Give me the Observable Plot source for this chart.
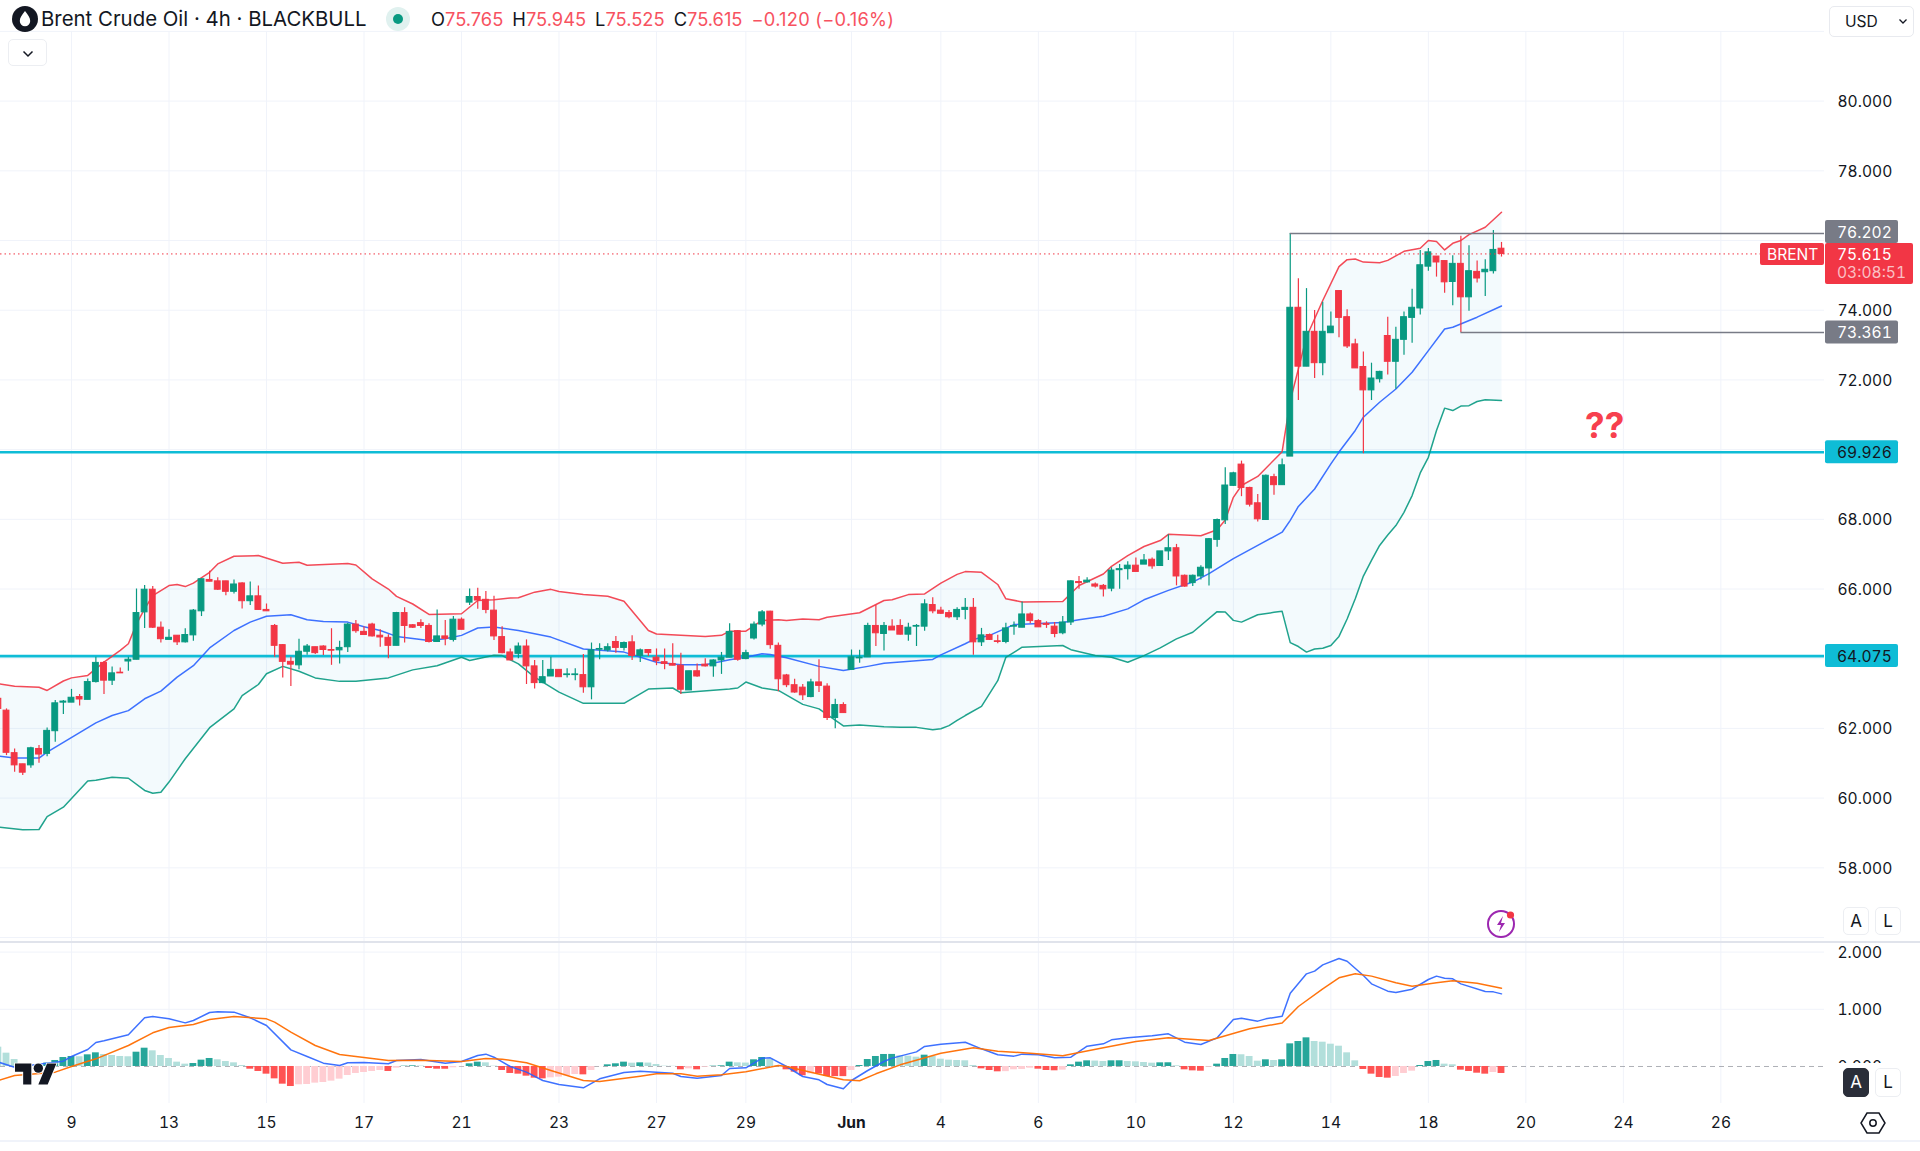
<!DOCTYPE html>
<html><head><meta charset="utf-8">
<script src="https://cdn.jsdelivr.net/npm/d3@7"></script>
<script src="https://cdn.jsdelivr.net/npm/@observablehq/plot@0.6"></script>
<style>
html,body{margin:0;padding:0;background:#fff;width:1920px;height:1151px;overflow:hidden;font-family:Inter,sans-serif;color:#131722}
#c1,#c2{position:absolute;left:0}
#c1{top:0}#c2{top:942px}
.a{position:absolute}
.btn{position:absolute;box-sizing:border-box;border:1px solid #eceef2;border-radius:5px;background:#fff;text-align:center;font-size:17px;line-height:27px;color:#131722}
svg{display:block}
</style></head><body>
<div id="c1"></div><div id="c2"></div>
<div id="ui"></div>
<script>
const open=[62.85,62.51,61.29,60.97,60.94,61.41,61.27,61.92,62.74,62.74,62.90,62.82,63.33,63.88,63.37,63.60,63.92,63.97,65.33,65.98,64.89,64.54,64.66,64.47,64.67,65.36,66.26,66.22,66.22,65.92,66.16,65.65,65.79,65.40,64.94,64.39,63.91,63.81,64.20,64.33,64.35,64.25,64.24,64.33,64.98,64.77,64.98,64.66,64.60,64.37,65.31,64.96,65.02,64.94,64.48,64.64,64.54,65.12,65.61,65.77,
65.69,65.38,64.62,64.18,64.14,64.35,63.78,63.30,63.49,63.68,63.53,63.53,63.53,63.18,64.26,64.24,64.48,64.31,64.47,64.08,64.25,64.03,63.90,63.85,63.80,63.09,63.64,63.83,63.78,63.95,64.03,64.79,63.99,64.58,64.98,65.35,64.37,63.52,63.24,63.17,62.90,63.32,63.20,62.30,62.67,63.68,64.01,64.04,64.94,64.71,64.92,64.94,64.69,64.92,
64.92,65.54,65.38,65.31,65.19,65.40,65.46,64.47,64.68,64.50,64.48,64.92,64.89,65.27,65.08,65.00,64.92,64.73,65.04,66.20,66.19,66.13,66.09,66.01,66.54,66.57,66.67,66.70,66.84,66.66,67.08,67.17,66.38,66.17,66.36,66.59,67.41,67.97,68.96,69.57,68.90,68.46,67.98,69.21,68.98,
69.80,74.07,72.38,73.38,72.48,73.34,74.55,73.80,73.02,72.37,71.70,72.02,73.26,72.52,73.15,73.78,74.05,75.25,75.54,75.41,74.81,75.33,74.37,75.10,75.09,75.12,75.765];
const high=[63.00,62.56,61.41,60.97,61.46,61.51,62.01,62.80,62.80,63.12,62.97,63.42,64.04,63.92,63.76,63.73,64.04,66.00,66.10,66.07,65.05,64.83,64.66,64.86,65.41,66.29,66.51,66.32,66.22,66.26,66.18,66.20,66.09,65.57,64.98,64.41,64.04,64.56,64.41,64.33,64.37,64.86,64.50,65.02,65.10,64.92,65.02,64.83,64.69,65.33,65.46,64.98,65.12,65.00,65.40,65.10,65.21,65.17,66.00,66.02,
65.93,65.79,64.92,64.28,64.45,64.54,63.95,63.95,64.04,63.68,63.71,63.71,64.12,64.45,64.43,64.43,64.64,64.48,64.66,64.28,64.25,64.28,64.28,64.43,64.16,63.64,63.85,64.00,63.97,64.18,65.00,64.81,64.24,65.05,65.38,65.36,64.45,63.55,63.41,63.26,63.41,63.97,63.28,62.84,62.74,64.25,64.24,65.02,65.53,65.04,65.12,65.12,65.02,64.98,
65.69,65.75,65.48,65.38,65.46,65.73,65.73,64.87,64.71,64.67,65.02,65.05,65.63,65.31,65.12,65.06,65.04,65.21,66.24,66.36,66.32,66.17,66.13,66.61,66.70,66.78,66.89,66.99,66.89,67.08,67.56,67.28,66.40,66.40,66.67,67.45,68.01,69.48,69.35,69.67,68.92,68.71,69.27,69.29,69.73,
76.202,74.90,74.62,73.99,74.23,73.95,74.55,74.01,73.17,72.80,72.48,72.25,73.80,73.51,73.95,74.60,75.71,75.77,75.54,75.41,75.56,76.12,75.85,75.41,75.45,76.29,75.945];
const low=[62.50,61.22,60.74,60.65,60.86,61.00,61.19,61.60,62.40,62.74,62.64,62.82,63.30,62.97,63.23,63.58,63.64,63.97,64.87,64.87,64.45,64.54,64.38,64.45,64.50,65.21,66.21,65.96,65.81,65.86,65.43,65.53,65.40,65.36,64.04,63.45,63.20,63.68,64.10,64.12,64.09,63.81,63.85,64.18,64.73,64.68,64.62,64.33,64.00,64.37,64.45,64.87,64.87,64.45,64.48,64.37,64.48,64.83,65.53,65.42,
65.29,64.52,64.14,63.95,64.00,63.26,63.13,63.28,63.49,63.47,63.45,63.37,63.01,62.82,63.97,64.19,64.16,64.22,63.95,63.89,64.06,63.80,63.68,63.80,62.97,63.09,63.47,63.76,63.47,63.55,64.03,63.93,63.97,64.54,64.92,64.27,63.05,63.17,63.01,62.80,62.88,63.03,62.23,61.99,62.44,63.68,63.87,64.04,64.35,64.22,64.81,64.68,64.50,64.35,
64.79,65.29,65.27,65.15,65.10,65.12,64.10,64.35,64.52,64.43,64.43,64.67,64.89,65.00,64.90,64.87,64.60,64.69,64.95,65.99,66.17,66.03,65.77,65.92,65.99,66.26,66.49,66.70,66.57,66.65,66.82,66.09,66.05,66.07,66.26,66.09,67.20,67.85,68.94,68.65,68.35,67.92,67.97,68.69,68.98,
69.80,71.41,72.38,72.04,72.12,73.34,73.21,72.90,72.33,69.88,71.41,71.91,72.14,71.73,72.71,73.05,73.86,75.12,74.95,74.49,74.13,73.361,73.97,74.78,74.39,75.04,75.525];
const close=[62.56,61.30,60.94,60.73,61.43,61.25,61.93,62.72,62.77,62.88,62.83,63.33,63.88,63.37,63.58,63.58,63.97,65.31,65.98,64.89,64.56,64.60,64.47,64.68,65.38,66.28,66.21,65.98,65.92,66.13,65.65,65.79,65.40,65.36,64.37,63.91,63.83,64.20,64.35,64.16,64.25,64.23,64.31,64.98,64.79,64.68,64.64,64.61,64.37,65.31,64.94,64.89,64.94,64.48,64.64,64.57,65.12,64.83,65.77,65.67,
65.40,64.64,64.16,63.95,64.35,63.78,63.30,63.47,63.68,63.47,63.55,63.55,63.18,64.24,64.28,64.33,64.31,64.45,64.08,64.24,64.16,63.93,63.85,63.80,63.11,63.64,63.49,63.78,63.95,64.03,64.77,63.97,64.16,64.98,65.33,64.39,63.41,63.24,63.03,62.95,63.32,63.22,62.30,62.67,62.44,64.04,64.03,64.94,64.73,64.94,64.81,64.69,64.89,64.94,
65.56,65.36,65.29,65.19,65.40,65.46,64.47,64.67,64.54,64.48,64.87,64.94,65.27,65.08,64.90,64.97,64.71,65.04,66.22,66.17,66.24,66.07,65.99,66.53,66.57,66.67,66.49,66.82,66.65,67.08,67.17,66.36,66.07,66.38,66.61,67.43,67.98,68.97,69.32,68.90,68.42,68.00,69.25,68.98,69.55,
74.07,72.38,73.38,72.48,73.38,73.53,73.78,72.96,72.33,71.70,72.04,72.23,72.52,73.15,73.80,74.07,75.29,75.66,75.37,74.80,75.33,74.37,75.12,74.91,75.16,75.73,75.615];

const upperBar=[-1,1,4,5,7,8,10,12,14,15,16,17,18,20,21,22,23,25,26,28,31,34,36,37,42,43,45,47,48,50,52,56,58,60,62,63,65,67,68,71,74,76,79,80,83,86,88,89,91,93,95,96,98,100,101,105,108,109,111,113,115,117,118,120,122,123,125,130,132,135,136,138,140,142,143,147,149,150,151,152,154,157,158,160,162,164,165,166,167,169,170,172,174,175,176,177,178,179,180,182,184];
const upperVal=[63.28,63.21,63.18,63.09,63.36,63.45,63.52,63.90,64.24,64.43,65.0,65.43,65.81,66.10,66.13,66.07,66.17,66.48,66.72,66.94,66.96,66.74,66.77,66.68,66.73,66.69,66.29,66.00,65.79,65.57,65.27,65.29,65.67,65.69,65.74,65.75,65.91,65.99,65.93,65.84,65.79,65.65,64.81,64.71,64.67,64.64,64.67,64.79,64.79,65.10,65.12,65.10,65.14,65.12,65.19,65.32,65.67,65.69,65.84,65.86,66.17,66.42,66.50,66.48,66.13,65.72,65.63,65.64,66.10,66.43,66.65,66.96,67.22,67.39,67.57,67.53,67.70,67.98,68.63,68.97,69.23,69.94,71.4,73.23,74.28,75.25,75.45,75.47,75.38,75.36,75.43,75.69,75.78,76.00,75.97,75.73,75.92,76.00,76.17,76.38,76.81];
const basisBar=[-1,1,4,5,11,13,15,17,19,21,23,25,28,30,32,35,37,39,42,44,46,48,52,54,56,58,60,63,67,71,76,80,83,86,89,91,93,94,96,100,103,106,108,112,114,115,118,119,121,124,130,132,135,138,140,143,146,148,151,154,157,158,159,161,163,164,166,167,169,171,173,175,177,178,181,184];
const basisVal=[61.21,61.15,61.15,61.32,62.16,62.37,62.51,62.85,63.07,63.47,63.80,64.31,64.81,65.05,65.22,65.26,65.12,65.07,65.05,64.92,64.81,64.64,64.52,64.57,64.67,64.88,64.91,64.81,64.62,64.28,64.19,63.90,63.83,63.83,63.97,64.04,64.14,64.12,64.03,63.78,63.66,63.78,63.87,63.94,63.98,64.11,64.43,64.55,64.67,64.98,65.04,65.12,65.22,65.43,65.69,65.96,66.20,66.44,66.87,67.25,67.63,67.97,68.37,68.87,69.59,69.93,70.55,70.93,71.36,71.74,72.22,72.84,73.46,73.51,73.80,74.12];
const lowerBar=[-1,2,4,5,7,10,11,13,15,17,18,19,20,22,25,28,29,31,32,34,36,38,41,43,47,50,53,56,57,58,60,61,63,65,68,71,76,79,82,83,89,90,91,93,95,98,100,103,105,108,110,112,114,115,116,117,118,120,122,123,125,130,131,134,136,138,140,142,144,146,149,150,151,152,154,156,157,158,159,160,161,162,163,164,165,166,167,168,169,170,171,172,173,174,175,176,177,178,179,180,181,182,184];
const lowerVal=[59.17,59.09,59.10,59.47,59.74,60.49,60.51,60.60,60.57,60.22,60.14,60.17,60.46,61.13,62.02,62.56,62.94,63.26,63.57,63.78,63.64,63.45,63.35,63.35,63.45,63.68,63.80,64.04,63.95,64.00,64.10,64.09,63.85,63.47,63.04,62.72,62.72,63.13,63.16,63.02,63.13,63.16,63.33,63.16,63.09,62.69,62.56,62.07,62.10,62.05,62.03,62.03,61.96,61.99,62.08,62.23,62.37,62.63,63.37,64.04,64.33,64.38,64.26,64.09,64.04,63.90,64.09,64.31,64.57,64.76,65.35,65.34,65.10,65.05,65.26,65.33,65.36,64.46,64.35,64.19,64.28,64.30,64.38,64.64,65.14,65.72,66.37,66.82,67.25,67.55,67.82,68.20,68.68,69.33,69.78,70.55,71.19,71.12,71.25,71.26,71.38,71.43,71.41];

const macdHist=[.338,.233,.122,.05,.02,.03,.06,.105,.157,.175,.17,.204,.239,.21,.192,.175,.17,.25,.32,.274,.192,.14,.076,.041,.052,.111,.14,.117,.087,.064,.017,
-.047,-.087,-.134,-.216,-.309,-.35,-.32,-.315,-.291,-.28,-.256,-.221,-.157,-.122,-.105,-.087,-.07,-.087,-.029,.006,.012,.008,-.035,-.047,-.048,-.023,-.005,.047,.076,.064,.006,
-.07,-.122,-.134,-.169,-.204,-.216,-.198,-.186,-.163,-.14,-.146,-.07,-.002,.029,.047,.076,.058,.064,.06,.035,.006,.004,-.058,-.041,-.058,-.012,.006,.012,.076,.064,.06,.117,.157,.128,.012,
-.058,-.099,-.163,-.128,-.13,-.175,-.176,-.177,-.07,.017,.122,.175,.21,.211,.186,.18,.163,.198,.175,.128,.111,.105,.1,.017,-.041,-.07,-.093,-.09,-.058,-.052,-.03,-.047,-.07,-.075,-.064,.029,.076,.099,.095,.087,.099,.1,.087,.082,.07,.058,.064,.065,.012,
-.058,-.076,-.082,-.012,.041,.14,.21,.205,.175,.093,.117,.105,.117,.396,.437,.501,.437,.425,.39,.355,.239,.099,-.052,-.134,-.192,-.204,-.175,-.122,-.082,.017,.087,.105,.041,.03,-.064,-.087,-.117,-.134,-.105,-.122];
const macdBar=[-1,1,7,8,10,11,12,15,17,18,20,22,23,25,26,28,30,32,35,37,39,41,42,44,47,48,51,54,56,58,59,60,62,64,66,68,71,73,76,78,80,82,83,85,88,89,91,93,94,96,98,100,101,103,104,106,108,109,112,113,115,118,120,122,124,125,127,129,131,133,135,136,138,141,143,145,147,149,151,152,154,155,157,158,160,161,162,164,165,167,168,170,171,173,175,176,177,178,179,182,183,184];
const macdVal=[.076,-.012,.093,.175,.297,.42,.45,.554,.851,.874,.833,.763,.804,.944,.956,.95,.851,.717,.291,.175,.058,.017,.064,.07,.047,.105,.122,.058,.087,.192,.216,.163,0,-.099,-.245,-.315,-.373,-.216,-.105,-.082,-.099,-.117,-.175,-.204,-.157,-.035,-.023,.146,.152,0,-.175,-.233,-.315,-.39,-.245,-.07,.087,.146,.256,.35,.39,.425,.309,.204,.181,.216,.204,.152,.163,.355,.396,.466,.501,.536,.571,.425,.385,.501,.822,.845,.793,.833,.88,1.282,1.62,1.667,1.777,1.888,1.841,1.591,1.445,1.317,1.294,1.352,1.521,1.58,1.544,1.533,1.445,1.311,1.305,1.27];
const signalBar=[-1,1,6,8,11,15,18,20,23,25,28,32,33,35,38,41,44,47,51,56,59,61,64,67,71,73,78,80,83,85,88,91,95,96,99,103,105,107,110,115,119,122,126,130,135,139,143,148,153,157,159,162,164,166,168,171,173,176,178,181,184];
const signalVal=[-.245,-.157,-.099,0,.134,.367,.589,.682,.734,.822,.874,.833,.775,.6,.367,.21,.157,.105,.111,.087,.14,.128,.064,-.07,-.245,-.262,-.169,-.128,-.128,-.169,-.146,-.093,.017,0,-.099,-.233,-.25,-.128,.029,.233,.326,.268,.233,.186,.326,.437,.501,.454,.659,.76,1.049,1.358,1.55,1.62,1.58,1.463,1.404,1.463,1.498,1.457,1.369];

const priceTicks=[58,60,62,66,68,72,74,78,80];
const gridPrices=[56,58,60,62,64,66,68,70,72,74,76,78,80,82];
const macdTicks=[2,1,0];
const timeBars=[8,20,32,44,56,68,80,91,115,127,139,151,163,175,187,199,211];
const timeLabels=["9","13","15","17","21","23","27","29","4","6","10","12","14","18","20","24","26"];
const monthBar=[104];const monthLabel=["Jun"];
const levels=[69.926,64.075];
const lastClose=75.615, rangeHigh=76.202, rangeLow=73.361, rangeHighBar=158, rangeLowBar=179;

const GREEN="#089981",RED="#f23645",GRID="#f0f3fa",CYAN="#0fbcd6";
const allV=[...timeBars,...monthBar];
const bars=open.map((o,k)=>({i:k-1,o,h:high[k],l:low[k],c:close[k],col:close[k]>=o?GREEN:RED}));
const zip=(a,b)=>a.map((i,k)=>({i,v:b[k]}));
const upper=zip(upperBar,upperVal),basis=zip(basisBar,basisVal),lower=zip(lowerBar,lowerVal);
const band=[...upper,...lower.slice().reverse()];
const hist=macdHist.map((v,k)=>{const p=k?macdHist[k-1]:v;return {i:k-1,v,col:v>=0?(v>p?"#26a69a":"#b2dfdb"):(v<p?"#ff5252":"#ffcdd2")}});
const X={domain:[-0.7385,223.754],range:[0,1824]};
const font={fontFamily:"Inter,sans-serif",fontSize:"15.6px",color:"#131722",background:"transparent"};

function tags(index,{y},_,dim){
  const g=d3.create("svg:g").attr("font-family","Inter,sans-serif").attr("font-size","15.6px").attr("text-anchor","start").style("font-variant-numeric","tabular-nums");
  const box=(v,label,bg,fg,shift=0)=>{const c=y(v)+shift;
    g.append("rect").attr("x",1825).attr("y",c-11.5).attr("width",73).attr("height",23).attr("rx",2).attr("fill",bg);
    g.append("text").attr("x",1837).attr("y",c+0.5).attr("dy","0.36em").attr("fill",fg).text(label);};
  box(rangeHigh,"76.202","#787b86","#fff",-1.5);
  box(rangeLow,"73.361","#787b86","#fff");
  box(levels[0],"69.926",CYAN,"#131722");
  box(levels[1],"64.075",CYAN,"#131722");
  const c=y(lastClose);
  g.append("rect").attr("x",1760).attr("y",c-10.5).attr("width",64).attr("height",22).attr("rx",2).attr("fill",RED);
  g.append("text").attr("x",1767).attr("y",c+0.5).attr("dy","0.36em").attr("fill","#fff").text("BRENT");
  g.append("rect").attr("x",1825).attr("y",c-10.5).attr("width",88).attr("height",41).attr("rx",2).attr("fill",RED);
  g.append("text").attr("x",1837).attr("y",c+0.5).attr("dy","0.36em").attr("fill","#fff").text("75.615");
  g.append("text").attr("x",1837).attr("y",c+18.5).attr("dy","0.36em").attr("fill","#ffffffb0").text("03:08:51");
  return g.node();
}

const main=Plot.plot({width:1920,height:942,marginLeft:0,marginRight:96,marginTop:0,marginBottom:0,style:font,
  x:{...X,axis:null},y:{domain:[55.857,82.887],range:[942,0],axis:null},color:{type:"identity"},
  marks:[
    Plot.ruleY(gridPrices,{stroke:GRID,strokeWidth:1}),
    Plot.ruleX(allV,{y1:82,y2:55.857,stroke:GRID,strokeWidth:1}),
    Plot.line(band,{x:"i",y:"v",fill:"#1f9fdc",fillOpacity:0.055,stroke:"none",clip:true}),
    Plot.ruleY(levels,{stroke:CYAN,strokeWidth:2.6}),
    Plot.line(upper,{x:"i",y:"v",stroke:RED,strokeWidth:1.5,strokeOpacity:.9,clip:true}),
    Plot.line(basis,{x:"i",y:"v",stroke:"#2962ff",strokeWidth:1.5,strokeOpacity:.9,clip:true}),
    Plot.line(lower,{x:"i",y:"v",stroke:GREEN,strokeWidth:1.5,strokeOpacity:.9,clip:true}),
    Plot.ruleX(bars,{x:"i",y1:"l",y2:"h",stroke:"col",strokeWidth:1.2,clip:true}),
    Plot.rect(bars,{x1:d=>d.i-0.36,x2:d=>d.i+0.36,y1:"o",y2:"c",fill:"col",stroke:"col",strokeWidth:1,clip:true}),
    Plot.ruleY([rangeHigh],{x1:rangeHighBar,x2:X.domain[1],stroke:"#787b86",strokeWidth:1.4}),
    Plot.ruleY([rangeLow],{x1:rangeLowBar,x2:X.domain[1],stroke:"#787b86",strokeWidth:1.4}),
    Plot.ruleY([lastClose],{x1:X.domain[0],x2:216,stroke:RED,strokeWidth:1,strokeDasharray:"1.5 3"}),
    Plot.text([{i:196.7,v:70.66,t:"??"}],{x:"i",y:"v",text:"t",fontSize:35,fontWeight:700,fill:"#f7404e"}),
    Plot.axisY(priceTicks,{anchor:"right",tickSize:0,tickPadding:13,label:null,dy:1,tickFormat:d3.format(".3f"),fill:"#131722"}),
    tags
  ]});
document.getElementById("c1").append(main);

const macdPlot=Plot.plot({width:1920,height:209,marginLeft:0,marginRight:96,marginTop:0,marginBottom:48,style:font,
  x:{...X,axis:null},y:{domain:[-0.647,2.168],range:[161,0],axis:null},color:{type:"identity"},
  marks:[
    Plot.ruleY([2,1],{stroke:GRID,strokeWidth:1}),
    Plot.ruleX(allV,{stroke:GRID,strokeWidth:1}),
    Plot.ruleY([0],{stroke:"#787b86",strokeOpacity:.6,strokeWidth:1,strokeDasharray:"5 4"}),
    Plot.rect(hist,{x1:d=>d.i-0.42,x2:d=>d.i+0.42,y1:d=>0,y2:"v",fill:"col",clip:true}),
    Plot.line(zip(macdBar,macdVal),{x:"i",y:"v",stroke:"#2962ff",strokeWidth:1.5,strokeOpacity:.9,clip:true}),
    Plot.line(zip(signalBar,signalVal),{x:"i",y:"v",stroke:"#ff6d00",strokeWidth:1.5,strokeOpacity:.95,clip:true}),
    Plot.axisY(macdTicks,{anchor:"right",tickSize:0,tickPadding:13,label:null,dy:1,tickFormat:d3.format(".3f"),fill:"#131722"}),
    Plot.axisX(timeBars,{anchor:"bottom",tickSize:0,tickPadding:13,label:null,tickFormat:(d)=>timeLabels[timeBars.indexOf(d)],fill:"#131722"}),
    Plot.axisX(monthBar,{anchor:"bottom",tickSize:0,tickPadding:13,label:null,tickFormat:()=>monthLabel[0],fontWeight:700,fill:"#131722"})
  ]});
document.getElementById("c2").append(macdPlot);

document.getElementById("ui").innerHTML=`
<div class="a" style="left:0;top:941px;width:1920px;height:1.5px;background:#e0e3eb"></div>
<div class="a" style="left:0;top:1139.5px;width:1920px;height:2px;background:#f0f3fa"></div>
<svg class="a" style="left:12px;top:6px" width="26" height="26" viewBox="0 0 26 26"><circle cx="13" cy="13" r="13" fill="#131722"/><path d="M13 5c3 3.8 5.2 6.6 5.2 10a5.2 5.2 0 0 1-10.4 0C7.8 11.6 10 8.8 13 5z" fill="#fff"/></svg>
<div class="a" style="left:41px;top:7px;font-size:20.4px;line-height:24px;white-space:nowrap">Brent Crude Oil · 4h · BLACKBULL</div>
<svg class="a" style="left:385px;top:7px" width="26" height="26"><circle cx="13" cy="12" r="12" fill="#e0f1ef"/><circle cx="13" cy="12" r="5" fill="#089981"/></svg>
<div class="a" style="left:431px;top:8px;font-size:18.3px;line-height:22px;white-space:nowrap;color:#f7525f"><span style="color:#131722">O</span>75.765<span style="color:#131722;margin-left:9px">H</span>75.945<span style="color:#131722;margin-left:9px">L</span>75.525<span style="color:#131722;margin-left:9px">C</span>75.615<span style="margin-left:9px;letter-spacing:.25px">−0.120 (−0.16%)</span></div>
<div class="btn" style="left:8px;top:39px;width:39px;height:27px"><svg width="14" height="10" viewBox="0 0 14 10" style="margin-top:8px;display:inline-block"><path d="M2.5 2.5 7 7l4.5-4.5" fill="none" stroke="#131722" stroke-width="1.5"/></svg></div>
<div class="btn" style="left:1829px;top:6px;width:85px;height:31px;line-height:29px;text-align:left;padding-left:15px;font-size:15.6px;border-color:#e8eaef">USD<svg width="10" height="8" viewBox="0 0 10 8" style="position:absolute;left:68px;top:11px"><path d="M1.5 1.5 5 5l3.5-3.5" fill="none" stroke="#131722" stroke-width="1.3"/></svg></div>
<div class="a" style="left:1826px;top:1063px;width:94px;height:40px;background:#fff"></div>
<div class="btn" style="left:1843px;top:907px;width:26px;height:28px">A</div>
<div class="btn" style="left:1875px;top:907px;width:26px;height:28px">L</div>
<div class="btn" style="left:1843px;top:1068px;width:26px;height:29px;background:#2a2e39;color:#fff;border-color:#2a2e39">A</div>
<div class="btn" style="left:1875px;top:1068px;width:26px;height:29px">L</div>
<svg class="a" style="left:1859px;top:1110px" width="28" height="26" viewBox="0 0 28 26"><path d="M8 3h12l6 10-6 10H8L2 13z" fill="none" stroke="#131722" stroke-width="1.5"/><circle cx="14" cy="13" r="3.2" fill="none" stroke="#131722" stroke-width="1.5"/></svg>
<svg class="a" style="left:1485px;top:908px" width="32" height="32" viewBox="0 0 32 32"><circle cx="16" cy="16" r="13" fill="none" stroke="#9c27b0" stroke-width="2"/><path d="M18 8l-6 9h4l-2 7 6-9h-4z" fill="#9c27b0"/><circle cx="25.5" cy="7" r="3.6" fill="#f23645"/></svg>
<svg class="a" style="left:15px;top:1063px;overflow:visible" width="42" height="22" viewBox="0 4 36 18"><path d="M14 22H7V11H0V4h14v18z M28 22h-8l7.5-18h8L28 22z" fill="#131722" stroke="#fff" stroke-width="1.5" paint-order="stroke"/><circle cx="20" cy="8" r="4" fill="#131722" stroke="#fff" stroke-width="1.5" paint-order="stroke"/></svg>
`;
</script>
</body></html>
